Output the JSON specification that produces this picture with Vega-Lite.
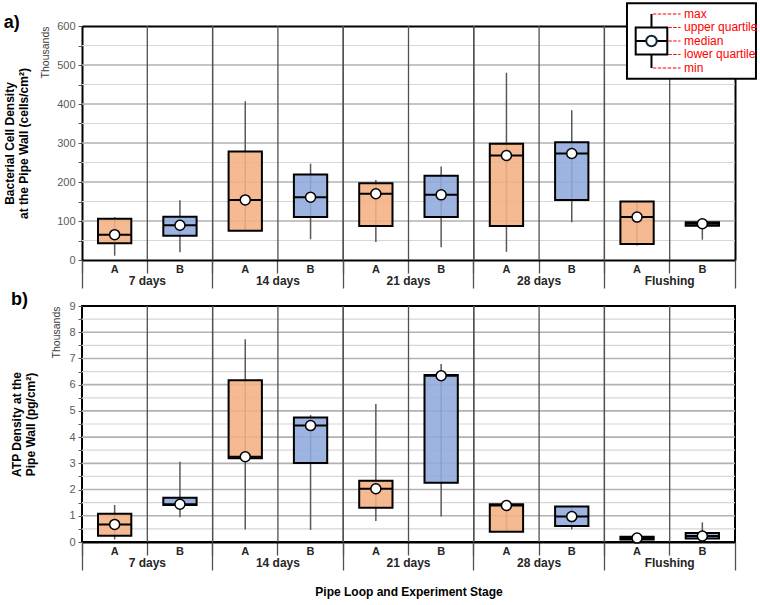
{
  "$schema": "https://vega.github.io/schema/vega-lite/v6.json",
  "padding": {"left": 3, "top": 2, "right": 0, "bottom": 0},
  "background": "white",
  "config": {
    "font": "Liberation Sans",
    "view": {"stroke": "#000000", "strokeWidth": 2},
    "axis": {"minExtent": 0}
  },
  "datasets": {
    "cells": [
      {"key": "7 days A", "stage": "7 days", "loop": "A", "min": 11, "q1": 43, "median": 65, "q3": 106, "max": 110},
      {"key": "7 days B", "stage": "7 days", "loop": "B", "min": 20, "q1": 62, "median": 89, "q3": 111, "max": 153},
      {"key": "14 days A", "stage": "14 days", "loop": "A", "min": 75, "q1": 75, "median": 154, "q3": 278, "max": 407},
      {"key": "14 days B", "stage": "14 days", "loop": "B", "min": 53, "q1": 110, "median": 161, "q3": 219, "max": 247},
      {"key": "21 days A", "stage": "21 days", "loop": "A", "min": 46, "q1": 87, "median": 170, "q3": 197, "max": 205},
      {"key": "21 days B", "stage": "21 days", "loop": "B", "min": 33, "q1": 110, "median": 167, "q3": 216, "max": 240},
      {"key": "28 days A", "stage": "28 days", "loop": "A", "min": 21, "q1": 87, "median": 268, "q3": 298, "max": 480},
      {"key": "28 days B", "stage": "28 days", "loop": "B", "min": 97, "q1": 154, "median": 273, "q3": 302, "max": 384},
      {"key": "Flushing A", "stage": "Flushing", "loop": "A", "min": 37, "q1": 41, "median": 110, "q3": 150, "max": 150},
      {"key": "Flushing B", "stage": "Flushing", "loop": "B", "min": 52, "q1": 88, "median": 93, "q3": 97, "max": 97}
    ],
    "atp": [
      {"key": "7 days A", "stage": "7 days", "loop": "A", "min": 0.1, "q1": 0.24, "median": 0.67, "q3": 1.08, "max": 1.41},
      {"key": "7 days B", "stage": "7 days", "loop": "B", "min": 0.94, "q1": 1.41, "median": 1.44, "q3": 1.69, "max": 3.06},
      {"key": "14 days A", "stage": "14 days", "loop": "A", "min": 0.48, "q1": 3.19, "median": 3.25, "q3": 6.17, "max": 7.73},
      {"key": "14 days B", "stage": "14 days", "loop": "B", "min": 0.46, "q1": 3.01, "median": 4.44, "q3": 4.75, "max": 4.84},
      {"key": "21 days A", "stage": "21 days", "loop": "A", "min": 0.8, "q1": 1.31, "median": 2.03, "q3": 2.34, "max": 5.26},
      {"key": "21 days B", "stage": "21 days", "loop": "B", "min": 0.97, "q1": 2.26, "median": 6.34, "q3": 6.37, "max": 6.79},
      {"key": "28 days A", "stage": "28 days", "loop": "A", "min": 0.39, "q1": 0.39, "median": 1.39, "q3": 1.44, "max": 1.44},
      {"key": "28 days B", "stage": "28 days", "loop": "B", "min": 0.48, "q1": 0.61, "median": 0.97, "q3": 1.35, "max": 1.35},
      {"key": "Flushing A", "stage": "Flushing", "loop": "A", "min": 0.1, "q1": 0.1, "median": 0.15, "q3": 0.2, "max": 0.2},
      {"key": "Flushing B", "stage": "Flushing", "loop": "B", "min": 0.13, "q1": 0.13, "median": 0.23, "q3": 0.34, "max": 0.75}
    ],
    "gridA": [
      {"v": 50}, {"v": 100}, {"v": 150}, {"v": 200}, {"v": 250}, {"v": 300}, {"v": 350},
      {"v": 400}, {"v": 450}, {"v": 500}, {"v": 550}
    ],
    "gridB": [
      {"v": 0.5}, {"v": 1}, {"v": 1.5}, {"v": 2}, {"v": 2.5}, {"v": 3}, {"v": 3.5}, {"v": 4}, {"v": 4.5},
      {"v": 5}, {"v": 5.5}, {"v": 6}, {"v": 6.5}, {"v": 7}, {"v": 7.5}, {"v": 8}, {"v": 8.5}
    ],
    "stages": [
      {"stage": "7 days"}, {"stage": "14 days"}, {"stage": "21 days"}, {"stage": "28 days"}, {"stage": "Flushing"}
    ],
    "legendBox": [{"min": 1, "q1": 2, "median": 3, "q3": 4, "max": 5}],
    "legendLabels": [
      {"label": "max", "v": 5, "part": "whisker"},
      {"label": "upper quartile", "v": 4, "part": "box"},
      {"label": "median", "v": 3, "part": "box"},
      {"label": "lower quartile", "v": 2, "part": "box"},
      {"label": "min", "v": 1, "part": "whisker"}
    ]
  },
  "spacing": 46,
  "bounds": "flush",
  "vconcat": [
    {
      "width": 653,
      "height": 234,
      "view": {"stroke": null},
      "title": {"text": "a)", "anchor": "start", "fontSize": 18, "fontWeight": "bold", "color": "#000000", "offset": -30},
      "resolve": {"scale": {"x": "independent", "y": "independent"}},
      "layer": [
        {
          "data": {"name": "gridA"},
          "mark": {"type": "rule"},
          "encoding": {
            "x": {"datum": 0, "type": "quantitative", "scale": {"domain": [0, 1], "nice": false, "zero": false}, "axis": null},
            "x2": {"datum": 1},
            "y": {"field": "v", "type": "quantitative", "scale": {"domain": [0, 600], "nice": false}, "axis": null},
            "color": {"condition": {"test": "datum.v % 100 === 0", "value": "#b2b2b2"}, "value": "#d6d6d6"},
            "strokeWidth": {"condition": {"test": "datum.v % 100 === 0", "value": 1.6}, "value": 1.2}
          }
        },
        {
          "data": {"name": "cells"},
          "encoding": {
            "x": {
              "field": "key", "type": "nominal",
              "scale": {"type": "band", "domain": ["7 days A", "7 days B", "14 days A", "14 days B", "21 days A", "21 days B", "28 days A", "28 days B", "Flushing A", "Flushing B"], "paddingInner": 0, "paddingOuter": 0},
              "axis": {
                "title": null, "labelExpr": "substring(datum.label, length(datum.label) - 1)", "labelAngle": 0,
                "labelFontSize": 11, "labelFontWeight": "bold", "labelColor": "#262626", "labelPadding": -10,
                "grid": false, "bandPosition": 0,
                "ticks": true, "tickSize": 13, "tickColor": "#505050", "tickWidth": 1.3,
                "domain": true, "domainColor": "#000000", "domainWidth": 2
              }
            }
          },
          "layer": [
            {
              "transform": [{"filter": "datum.key !== '7 days A'"}],
              "mark": {"type": "rule", "color": "#505050", "strokeWidth": 1.3},
              "encoding": {
                "x": {"field": "key", "type": "nominal", "bandPosition": 0}
              }
            },
            {
              "mark": {"type": "rule", "color": "#595959", "strokeWidth": 1.5},
              "encoding": {
                "y": {
                  "field": "min", "type": "quantitative", "scale": {"domain": [0, 600], "nice": false},
                  "axis": {
                    "title": ["Bacterial Cell Density", "at the Pipe Wall (cells/cm²)"],
                    "titleFontSize": 12, "titleFontWeight": "bold", "titleColor": "#000000", "titlePadding": 26,
                    "values": [0, 100, 200, 300, 400, 500, 600], "format": "d",
                    "labelColor": "#595959", "labelFontSize": 11, "labelPadding": 3, "labelOverlap": false,
                    "tickSize": 4, "tickColor": "#595959", "domain": true, "domainColor": "#000000", "domainWidth": 2,
                    "grid": false
                  }
                },
                "y2": {"field": "max"}
              }
            },
            {
              "mark": {"type": "bar", "width": {"band": 0.51}, "stroke": "#000000", "strokeWidth": 2, "fillOpacity": 0.88},
              "encoding": {
                "y": {
                  "field": "q1", "type": "quantitative", "scale": {"domain": [0, 600], "nice": false},
                  "axis": {
                    "title": ["Bacterial Cell Density", "at the Pipe Wall (cells/cm²)"],
                    "titleFontSize": 12, "titleFontWeight": "bold", "titleColor": "#000000", "titlePadding": 26,
                    "values": [0, 100, 200, 300, 400, 500, 600], "format": "d",
                    "labelColor": "#595959", "labelFontSize": 11, "labelPadding": 3, "labelOverlap": false,
                    "tickSize": 4, "tickColor": "#595959", "domain": true, "domainColor": "#000000", "domainWidth": 2,
                    "grid": false
                  }
                },
                "y2": {"field": "q3"},
                "color": {"field": "loop", "type": "nominal", "scale": {"domain": ["A", "B"], "range": ["#F4B183", "#8FAADC"]}, "legend": null}
              }
            },
            {
              "mark": {"type": "tick", "size": 33, "thickness": 2, "color": "#000000", "opacity": 1},
              "encoding": {
                "y": {
                  "field": "median", "type": "quantitative", "scale": {"domain": [0, 600], "nice": false},
                  "axis": {
                    "title": ["Bacterial Cell Density", "at the Pipe Wall (cells/cm²)"],
                    "titleFontSize": 12, "titleFontWeight": "bold", "titleColor": "#000000", "titlePadding": 26,
                    "values": [0, 100, 200, 300, 400, 500, 600], "format": "d",
                    "labelColor": "#595959", "labelFontSize": 11, "labelPadding": 3, "labelOverlap": false,
                    "tickSize": 4, "tickColor": "#595959", "domain": true, "domainColor": "#000000", "domainWidth": 2,
                    "grid": false
                  }
                }
              }
            },
            {
              "mark": {"type": "point", "shape": "circle", "filled": true, "fill": "#ffffff", "stroke": "#000000", "strokeWidth": 1.5, "size": 100, "opacity": 1},
              "encoding": {
                "y": {
                  "field": "median", "type": "quantitative", "scale": {"domain": [0, 600], "nice": false},
                  "axis": {
                    "title": ["Bacterial Cell Density", "at the Pipe Wall (cells/cm²)"],
                    "titleFontSize": 12, "titleFontWeight": "bold", "titleColor": "#000000", "titlePadding": 26,
                    "values": [0, 100, 200, 300, 400, 500, 600], "format": "d",
                    "labelColor": "#595959", "labelFontSize": 11, "labelPadding": 3, "labelOverlap": false,
                    "tickSize": 4, "tickColor": "#595959", "domain": true, "domainColor": "#000000", "domainWidth": 2,
                    "grid": false
                  }
                }
              }
            }
          ]
        },
        {
          "data": {"name": "stages"},
          "transform": [{"filter": "datum.stage !== '7 days'"}],
          "mark": {"type": "rule", "color": "#505050", "strokeWidth": 1.3},
          "encoding": {
            "x": {
              "field": "stage", "type": "nominal", "bandPosition": 0,
              "scale": {"type": "band", "domain": ["7 days", "14 days", "21 days", "28 days", "Flushing"], "paddingInner": 0, "paddingOuter": 0},
              "axis": {
                "orient": "bottom", "title": null, "grid": false, "domain": false,
                "ticks": true, "tickSize": 28, "tickColor": "#505050", "tickWidth": 1.3, "bandPosition": 1, "tickExtra": true,
                "labelPadding": -13, "labelFontSize": 12, "labelFontWeight": "bold", "labelColor": "#262626", "labelAngle": 0
              }
            },
            "y": {
              "datum": 0, "type": "quantitative", "scale": {"domain": [0, 600], "nice": false},
              "axis": {
                "orient": "left", "title": "Thousands", "titleFontSize": 10.5, "titleFontWeight": "normal", "titleColor": "#404040",
                "titleAnchor": "end", "titlePadding": 32, "labels": false, "domain": false,
                "values": [50, 150, 250, 350, 450, 550],
                "ticks": true, "tickSize": 4, "tickColor": "#595959", "grid": false,
                "minExtent": 0, "maxExtent": 0
              }
            },
            "y2": {"datum": 600}
          }
        },
        {
          "layer": [
            {
              "data": {"values": [{}]},
              "mark": {"type": "rect", "fill": "#ffffff", "stroke": "#000000", "strokeWidth": 2},
              "encoding": {
                "x": {"datum": 0, "type": "quantitative", "scale": {"domain": [-16.9, 3.35], "nice": false, "zero": false},
                      "axis": {"orient": "top", "title": null, "labels": false, "ticks": false, "grid": false, "domain": true, "domainColor": "#000000", "domainWidth": 2}},
                "x2": {"datum": 4},
                "y": {"datum": 0.2, "type": "quantitative", "scale": {"domain": [-13.22, 4.11], "nice": false, "zero": false},
                      "axis": {"orient": "right", "title": null, "labels": false, "ticks": false, "grid": false, "domain": true, "domainColor": "#000000", "domainWidth": 2, "minExtent": 0}},
                "y2": {"datum": 5.8}
              }
            },
            {
              "data": {"name": "legendBox"},
              "mark": {"type": "rule", "color": "#000000", "strokeWidth": 2},
              "encoding": {
                "x": {"datum": 0.76, "type": "quantitative", "scale": {"domain": [-16.9, 3.35], "nice": false, "zero": false},
                      "axis": {"orient": "top", "title": null, "labels": false, "ticks": false, "grid": false, "domain": true, "domainColor": "#000000", "domainWidth": 2}},
                "y": {"field": "min", "type": "quantitative", "scale": {"domain": [-13.22, 4.11], "nice": false, "zero": false},
                      "axis": {"orient": "right", "title": null, "labels": false, "ticks": false, "grid": false, "domain": true, "domainColor": "#000000", "domainWidth": 2, "minExtent": 0}},
                "y2": {"field": "max"}
              }
            },
            {
              "data": {"name": "legendBox"},
              "mark": {"type": "rect", "fill": "#ffffff", "stroke": "#000000", "strokeWidth": 2},
              "encoding": {
                "x": {"datum": 0.27, "type": "quantitative", "scale": {"domain": [-16.9, 3.35], "nice": false, "zero": false},
                      "axis": {"orient": "top", "title": null, "labels": false, "ticks": false, "grid": false, "domain": true, "domainColor": "#000000", "domainWidth": 2}},
                "x2": {"datum": 1.25},
                "y": {"field": "q1", "type": "quantitative", "scale": {"domain": [-13.22, 4.11], "nice": false, "zero": false},
                      "axis": {"orient": "right", "title": null, "labels": false, "ticks": false, "grid": false, "domain": true, "domainColor": "#000000", "domainWidth": 2, "minExtent": 0}},
                "y2": {"field": "q3"}
              }
            },
            {
              "data": {"name": "legendBox"},
              "mark": {"type": "rule", "color": "#000000", "strokeWidth": 2},
              "encoding": {
                "x": {"datum": 0.27, "type": "quantitative", "scale": {"domain": [-16.9, 3.35], "nice": false, "zero": false},
                      "axis": {"orient": "top", "title": null, "labels": false, "ticks": false, "grid": false, "domain": true, "domainColor": "#000000", "domainWidth": 2}},
                "x2": {"datum": 1.25},
                "y": {"field": "median", "type": "quantitative", "scale": {"domain": [-13.22, 4.11], "nice": false, "zero": false},
                      "axis": {"orient": "right", "title": null, "labels": false, "ticks": false, "grid": false, "domain": true, "domainColor": "#000000", "domainWidth": 2, "minExtent": 0}}
              }
            },
            {
              "data": {"name": "legendBox"},
              "mark": {"type": "point", "shape": "circle", "filled": true, "fill": "#ffffff", "stroke": "#14243a", "strokeWidth": 2, "size": 110, "opacity": 1},
              "encoding": {
                "x": {"datum": 0.76, "type": "quantitative", "scale": {"domain": [-16.9, 3.35], "nice": false, "zero": false},
                      "axis": {"orient": "top", "title": null, "labels": false, "ticks": false, "grid": false, "domain": true, "domainColor": "#000000", "domainWidth": 2}},
                "y": {"field": "median", "type": "quantitative", "scale": {"domain": [-13.22, 4.11], "nice": false, "zero": false},
                      "axis": {"orient": "right", "title": null, "labels": false, "ticks": false, "grid": false, "domain": true, "domainColor": "#000000", "domainWidth": 2, "minExtent": 0}}
              }
            },
            {
              "data": {"name": "legendLabels"},
              "transform": [{"filter": "datum.part === 'whisker'"}],
              "mark": {"type": "rule", "color": "#ff0000", "strokeWidth": 1.2, "strokeDash": [3.5, 1.5]},
              "encoding": {
                "x": {"datum": 0.8, "type": "quantitative", "scale": {"domain": [-16.9, 3.35], "nice": false, "zero": false},
                      "axis": {"orient": "top", "title": null, "labels": false, "ticks": false, "grid": false, "domain": true, "domainColor": "#000000", "domainWidth": 2}},
                "x2": {"datum": 1.66},
                "y": {"field": "v", "type": "quantitative", "scale": {"domain": [-13.22, 4.11], "nice": false, "zero": false},
                      "axis": {"orient": "right", "title": null, "labels": false, "ticks": false, "grid": false, "domain": true, "domainColor": "#000000", "domainWidth": 2, "minExtent": 0}}
              }
            },
            {
              "data": {"name": "legendLabels"},
              "transform": [{"filter": "datum.part === 'box'"}],
              "mark": {"type": "rule", "color": "#ff0000", "strokeWidth": 1.2, "strokeDash": [3.5, 1.5]},
              "encoding": {
                "x": {"datum": 1.28, "type": "quantitative", "scale": {"domain": [-16.9, 3.35], "nice": false, "zero": false},
                      "axis": {"orient": "top", "title": null, "labels": false, "ticks": false, "grid": false, "domain": true, "domainColor": "#000000", "domainWidth": 2}},
                "x2": {"datum": 1.66},
                "y": {"field": "v", "type": "quantitative", "scale": {"domain": [-13.22, 4.11], "nice": false, "zero": false},
                      "axis": {"orient": "right", "title": null, "labels": false, "ticks": false, "grid": false, "domain": true, "domainColor": "#000000", "domainWidth": 2, "minExtent": 0}}
              }
            },
            {
              "data": {"name": "legendLabels"},
              "mark": {"type": "text", "align": "left", "baseline": "middle", "color": "#ff0000", "fontSize": 12},
              "encoding": {
                "x": {"datum": 1.77, "type": "quantitative", "scale": {"domain": [-16.9, 3.35], "nice": false, "zero": false},
                      "axis": {"orient": "top", "title": null, "labels": false, "ticks": false, "grid": false, "domain": true, "domainColor": "#000000", "domainWidth": 2}},
                "y": {"field": "v", "type": "quantitative", "scale": {"domain": [-13.22, 4.11], "nice": false, "zero": false},
                      "axis": {"orient": "right", "title": null, "labels": false, "ticks": false, "grid": false, "domain": true, "domainColor": "#000000", "domainWidth": 2, "minExtent": 0}},
                "text": {"field": "label"}
              }
            }
          ]
        }
      ]
    },
    {
      "width": 653,
      "height": 236,
      "title": {"text": "b)", "anchor": "start", "fontSize": 18, "fontWeight": "bold", "color": "#000000", "offset": -9},
      "resolve": {"scale": {"x": "independent", "y": "independent"}},
      "layer": [
        {
          "data": {"name": "gridB"},
          "mark": {"type": "rule"},
          "encoding": {
            "x": {"datum": 0, "type": "quantitative", "scale": {"domain": [0, 1], "nice": false, "zero": false}, "axis": null},
            "x2": {"datum": 1},
            "y": {"field": "v", "type": "quantitative", "scale": {"domain": [0, 9], "nice": false}, "axis": null},
            "color": {"condition": {"test": "datum.v % 1 === 0", "value": "#b2b2b2"}, "value": "#d6d6d6"},
            "strokeWidth": {"condition": {"test": "datum.v % 1 === 0", "value": 1.6}, "value": 1.2}
          }
        },
        {
          "data": {"name": "atp"},
          "encoding": {
            "x": {
              "field": "key", "type": "nominal",
              "scale": {"type": "band", "domain": ["7 days A", "7 days B", "14 days A", "14 days B", "21 days A", "21 days B", "28 days A", "28 days B", "Flushing A", "Flushing B"], "paddingInner": 0, "paddingOuter": 0},
              "axis": {
                "title": null, "labelExpr": "substring(datum.label, length(datum.label) - 1)", "labelAngle": 0,
                "labelFontSize": 11, "labelFontWeight": "bold", "labelColor": "#262626", "labelPadding": -10,
                "grid": false, "bandPosition": 0,
                "ticks": true, "tickSize": 13, "tickColor": "#505050", "tickWidth": 1.3,
                "domain": true, "domainColor": "#000000", "domainWidth": 2
              }
            }
          },
          "layer": [
            {
              "transform": [{"filter": "datum.key !== '7 days A'"}],
              "mark": {"type": "rule", "color": "#505050", "strokeWidth": 1.3},
              "encoding": {
                "x": {"field": "key", "type": "nominal", "bandPosition": 0}
              }
            },
            {
              "mark": {"type": "rule", "color": "#595959", "strokeWidth": 1.5},
              "encoding": {
                "y": {
                  "field": "min", "type": "quantitative", "scale": {"domain": [0, 9], "nice": false},
                  "axis": {
                    "title": ["ATP Density at the", "Pipe Wall (pg/cm²)"],
                    "titleFontSize": 12, "titleFontWeight": "bold", "titleColor": "#000000", "titlePadding": 31,
                    "values": [0, 1, 2, 3, 4, 5, 6, 7, 8, 9], "format": "d",
                    "labelColor": "#595959", "labelFontSize": 11, "labelPadding": 3, "labelOverlap": false,
                    "tickSize": 4, "tickColor": "#595959", "domain": false, "grid": false
                  }
                },
                "y2": {"field": "max"}
              }
            },
            {
              "mark": {"type": "bar", "width": {"band": 0.51}, "stroke": "#000000", "strokeWidth": 2, "fillOpacity": 0.88},
              "encoding": {
                "y": {
                  "field": "q1", "type": "quantitative", "scale": {"domain": [0, 9], "nice": false},
                  "axis": {
                    "title": ["ATP Density at the", "Pipe Wall (pg/cm²)"],
                    "titleFontSize": 12, "titleFontWeight": "bold", "titleColor": "#000000", "titlePadding": 31,
                    "values": [0, 1, 2, 3, 4, 5, 6, 7, 8, 9], "format": "d",
                    "labelColor": "#595959", "labelFontSize": 11, "labelPadding": 3, "labelOverlap": false,
                    "tickSize": 4, "tickColor": "#595959", "domain": false, "grid": false
                  }
                },
                "y2": {"field": "q3"},
                "color": {"field": "loop", "type": "nominal", "scale": {"domain": ["A", "B"], "range": ["#F4B183", "#8FAADC"]}, "legend": null}
              }
            },
            {
              "mark": {"type": "tick", "size": 33, "thickness": 2, "color": "#000000", "opacity": 1},
              "encoding": {
                "y": {
                  "field": "median", "type": "quantitative", "scale": {"domain": [0, 9], "nice": false},
                  "axis": {
                    "title": ["ATP Density at the", "Pipe Wall (pg/cm²)"],
                    "titleFontSize": 12, "titleFontWeight": "bold", "titleColor": "#000000", "titlePadding": 31,
                    "values": [0, 1, 2, 3, 4, 5, 6, 7, 8, 9], "format": "d",
                    "labelColor": "#595959", "labelFontSize": 11, "labelPadding": 3, "labelOverlap": false,
                    "tickSize": 4, "tickColor": "#595959", "domain": false, "grid": false
                  }
                }
              }
            },
            {
              "mark": {"type": "point", "shape": "circle", "filled": true, "fill": "#ffffff", "stroke": "#000000", "strokeWidth": 1.5, "size": 100, "opacity": 1},
              "encoding": {
                "y": {
                  "field": "median", "type": "quantitative", "scale": {"domain": [0, 9], "nice": false},
                  "axis": {
                    "title": ["ATP Density at the", "Pipe Wall (pg/cm²)"],
                    "titleFontSize": 12, "titleFontWeight": "bold", "titleColor": "#000000", "titlePadding": 31,
                    "values": [0, 1, 2, 3, 4, 5, 6, 7, 8, 9], "format": "d",
                    "labelColor": "#595959", "labelFontSize": 11, "labelPadding": 3, "labelOverlap": false,
                    "tickSize": 4, "tickColor": "#595959", "domain": false, "grid": false
                  }
                }
              }
            }
          ]
        },
        {
          "data": {"name": "stages"},
          "transform": [{"filter": "datum.stage !== '7 days'"}],
          "mark": {"type": "rule", "color": "#505050", "strokeWidth": 1.3},
          "encoding": {
            "x": {
              "field": "stage", "type": "nominal", "bandPosition": 0,
              "scale": {"type": "band", "domain": ["7 days", "14 days", "21 days", "28 days", "Flushing"], "paddingInner": 0, "paddingOuter": 0},
              "axis": {
                "orient": "bottom", "title": "Pipe Loop and Experiment Stage", "titleFontSize": 12, "titleFontWeight": "bold",
                "titleColor": "#000000", "titlePadding": 16,
                "grid": false, "domain": false,
                "ticks": true, "tickSize": 28, "tickColor": "#505050", "tickWidth": 1.3, "bandPosition": 1, "tickExtra": true,
                "labelPadding": -13, "labelFontSize": 12, "labelFontWeight": "bold", "labelColor": "#262626", "labelAngle": 0
              }
            },
            "y": {
              "datum": 0, "type": "quantitative", "scale": {"domain": [0, 9], "nice": false},
              "axis": {
                "orient": "left", "title": "Thousands", "titleFontSize": 10.5, "titleFontWeight": "normal", "titleColor": "#404040",
                "titleAnchor": "end", "titlePadding": 21, "labels": false, "domain": false,
                "values": [0.5, 1.5, 2.5, 3.5, 4.5, 5.5, 6.5, 7.5, 8.5],
                "ticks": true, "tickSize": 4, "tickColor": "#595959", "grid": false,
                "minExtent": 0, "maxExtent": 0
              }
            },
            "y2": {"datum": 9}
          }
        }
      ]
    }
  ]
}
